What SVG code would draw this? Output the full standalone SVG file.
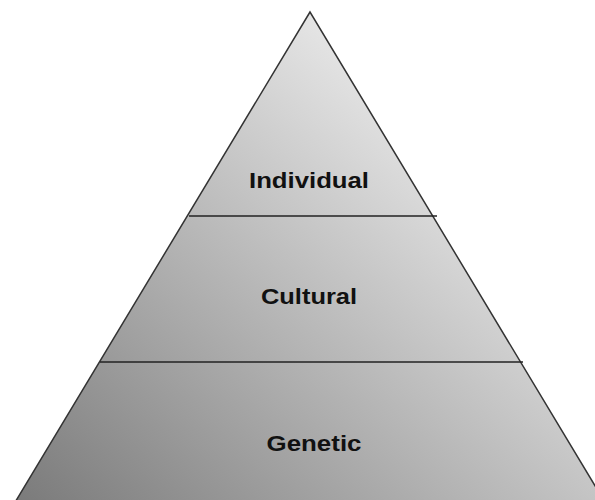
<svg xmlns="http://www.w3.org/2000/svg" width="595" height="500" viewBox="0 0 595 500">
<defs>
<linearGradient id="g" gradientUnits="userSpaceOnUse" x1="480" y1="30" x2="40" y2="520">
<stop offset="0" stop-color="#f8f8f8"/>
<stop offset="1" stop-color="#7b7b7b"/>
</linearGradient>
<style>
.lbl{font-family:"Liberation Sans",Arial,sans-serif;font-weight:bold;font-size:22px;fill:#111;text-anchor:middle}
.sep{stroke:#222;stroke-width:1.3;fill:none}
</style>
</defs>
<rect width="595" height="500" fill="#fff"/>
<g id="pyramid">
<polygon points="310,12 14,504 606,504" fill="url(#g)" stroke="#333" stroke-width="1.5"/>
</g>
<g id="connectors">
<line class="sep" x1="189" y1="216" x2="437" y2="216"/>
<line class="sep" x1="100" y1="362" x2="523" y2="362"/>
</g>
<g id="individual"><text class="lbl" x="309" y="188" textLength="120" lengthAdjust="spacingAndGlyphs">Individual</text></g>
<g id="cultural"><text class="lbl" x="309" y="304" textLength="96" lengthAdjust="spacingAndGlyphs">Cultural</text></g>
<g id="genetic"><text class="lbl" x="314" y="451" textLength="95" lengthAdjust="spacingAndGlyphs">Genetic</text></g>
</svg>
